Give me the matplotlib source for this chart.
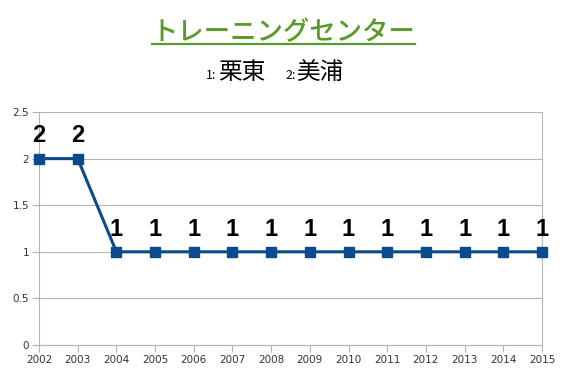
import matplotlib
matplotlib.use('Agg')
import matplotlib.pyplot as plt
from matplotlib.lines import Line2D

plt.rcParams['font.family'] = ['Noto Sans CJK JP', 'DejaVu Sans']

years = [2002, 2003, 2004, 2005, 2006, 2007, 2008, 2009, 2010, 2011, 2012, 2013, 2014, 2015]
values = [2, 2, 1, 1, 1, 1, 1, 1, 1, 1, 1, 1, 1, 1]
yticks = [0, 0.5, 1, 1.5, 2, 2.5]

title = 'トレーニングセンター'
# (text, fontsize, gap before in figure fraction)
sub_parts = [('1:', 9, 0.0), ('栗東', 17, 0.0), ('2:', 9, 0.033), ('美浦', 17, 0.0)]

fig = plt.figure(figsize=(5.67, 3.78), dpi=100)
ax = fig.add_axes([0.0688, 0.0873, 0.887, 0.6164])

line_col = '#0b4a8b'
ax.plot(years, values, color=line_col, lw=2.2, marker='s', ms=7.5, mec=line_col, mfc=line_col,
        clip_on=False, zorder=3)
for x, v in zip(years, values):
    ax.annotate(str(v), (x, v), xytext=(0, 8), textcoords='offset points', ha='center', va='bottom',
                fontsize=17, fontweight='bold', family='Liberation Sans', color='black')

ax.set_xlim(years[0], years[-1])
ax.set_ylim(0, 2.5)
ax.set_xticks(years)
ax.set_xticklabels([str(y) for y in years], family='DejaVu Sans', fontsize=7.5)
ax.set_yticks(yticks)
ax.set_yticklabels(['0', '0.5', '1', '1.5', '2', '2.5'], family='DejaVu Sans', fontsize=7.5)
ax.grid(axis='y', color='#b3b3b3', lw=0.8)
ax.tick_params(length=5, color='#b3b3b3', pad=2, labelcolor='#333333')
ax.spines['top'].set_visible(False)
for s in ['left', 'bottom', 'right']:
    ax.spines[s].set_color('#b3b3b3')
    ax.spines[s].set_linewidth(0.8)

t = fig.text(0.5, 0.895, title, ha='center', va='baseline', fontsize=19, fontweight='medium',
             color='#5a9a28')
fig.canvas.draw()
bb = t.get_window_extent()
inv = fig.transFigure.inverted()
x0, y0 = inv.transform((bb.x0, bb.y0))
x1, _ = inv.transform((bb.x1, bb.y0))
fig.add_artist(Line2D([x0, x1], [0.884, 0.884], color='#5a9a28', lw=1.6, transform=fig.transFigure))

# subtitle pieces laid out side by side
xpos = 0.364
renderer = fig.canvas.get_renderer()
for s, fs, gap in sub_parts:
    xpos += gap
    tt = fig.text(xpos, 0.79, s, ha='left', va='baseline', fontsize=fs, color='black')
    w = tt.get_window_extent(renderer)
    xpos = inv.transform((w.x1, 0))[0] + 0.002

fig.savefig('out.png', dpi=100)
